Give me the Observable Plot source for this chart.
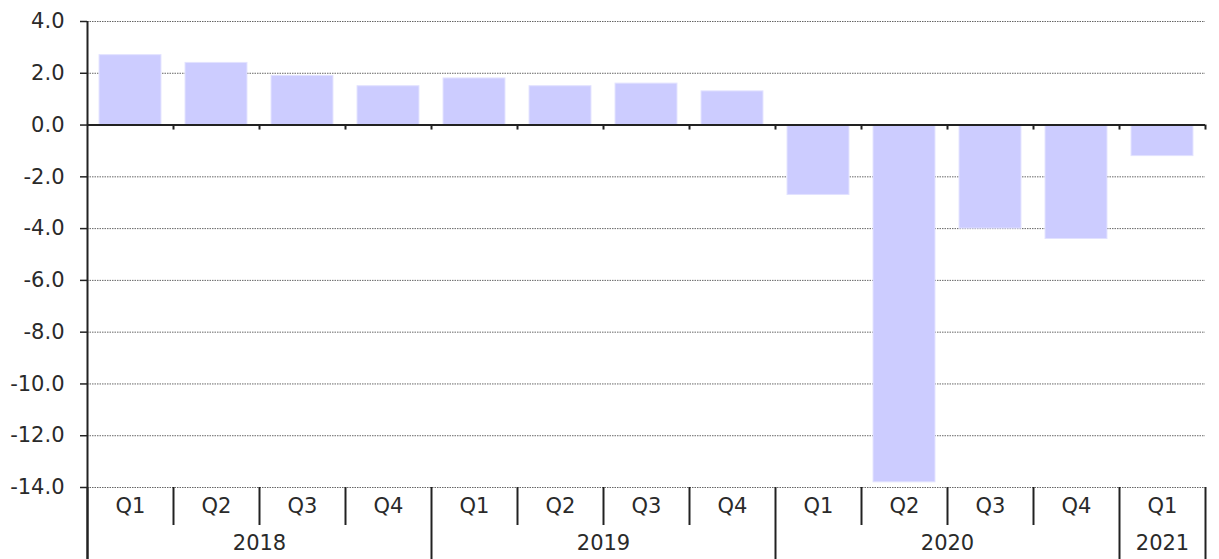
<!DOCTYPE html>
<html>
<head>
<meta charset="utf-8">
<script src="https://cdn.jsdelivr.net/npm/d3@7"></script>
<script src="https://cdn.jsdelivr.net/npm/@observablehq/plot@0.6"></script>
<style>
  html, body { margin: 0; padding: 0; background: #fff; }
  #chart svg { display: block; }
</style>
</head>
<body>
<div id="chart"></div>
<script>
const quarters = ["Q1","Q2","Q3","Q4","Q1","Q2","Q3","Q4","Q1","Q2","Q3","Q4","Q1"];
const years    = ["2018","2018","2018","2018","2019","2019","2019","2019","2020","2020","2020","2020","2021"];
const values   = [2.7, 2.4, 1.9, 1.5, 1.8, 1.5, 1.6, 1.3, -2.7, -13.8, -4.0, -4.4, -1.2];
const yTicks   = [4, 2, 0, -2, -4, -6, -8, -10, -12, -14];

const data = quarters.map((q, i) => ({i, q, year: years[i], value: values[i]}));
const n = data.length;
const yearNames = [...new Set(years)];
const yearGroups = yearNames.map(y => {
  const idx = data.filter(d => d.year === y).map(d => d.i);
  return {year: y, start: d3.min(idx), end: d3.max(idx) + 1};
});
const yearBounds = [0, ...yearGroups.map(g => g.end)];
const quarterBounds = d3.range(1, n).filter(b => !yearBounds.includes(b));
const allBounds = d3.range(1, n + 1);

const W = 1219, H = 559, mt = 21, mb = 72, ml = 87, mr = 14;

const chart = Plot.plot({
  width: W,
  height: H,
  marginTop: mt,
  marginBottom: mb,
  marginLeft: ml,
  marginRight: mr,
  style: {fontFamily: "DejaVu Sans, Verdana, sans-serif", fontSize: "21px", color: "#333", background: "#fff"},
  x: {domain: [0, n], axis: null},
  y: {domain: [-14, 4], axis: null},
  marks: [
    // dotted grid
    Plot.ruleY(yTicks.filter(t => t !== 0), {stroke: "#666", strokeWidth: 1, strokeDasharray: "1.5,1"}),
    // bars
    Plot.rectY(data, {x1: d => d.i + 0.14, x2: d => d.i + 0.86, y: "value", fill: "#ccccff", stroke: "#e2e2ff", strokeWidth: 1}),
    // zero line
    Plot.ruleY([0], {stroke: "#222", strokeWidth: 2}),
    // ticks on zero line at category boundaries
    Plot.ruleX(allBounds, {x: d => d, y1: 0, y2: 0, insetBottom: -5, stroke: "#222", strokeWidth: 2}),
    // quarter separators below plot
    Plot.ruleX(quarterBounds, {x: d => d, y1: -14, y2: -14, insetBottom: -38, stroke: "#222", strokeWidth: 2}),
    // year separators below plot
    Plot.ruleX(yearBounds, {x: d => d, y1: -14, y2: -14, insetBottom: -mb, stroke: "#222", strokeWidth: 2}),
    // left axis line spanning to bottom
    Plot.ruleX([0], {insetBottom: -mb, stroke: "#222", strokeWidth: 2}),
    // y axis ticks & labels
    Plot.axisY({ticks: yTicks, tickSize: 7, tickPadding: 16, tickFormat: d => d.toFixed(1), fill: "#2a2a2a", stroke: "#222", strokeWidth: 1.5, label: null}),
    // quarter labels
    Plot.axisX({ticks: data.map(d => d.i + 0.5), tickFormat: d => quarters[Math.floor(d)], tickSize: 0, tickPadding: 11, fill: "#2a2a2a", label: null}),
    // year labels
    Plot.axisX({ticks: yearGroups.map(g => (g.start + g.end) / 2), tickFormat: d => yearGroups.find(g => (g.start + g.end) / 2 === d).year, tickSize: 0, tickPadding: 48, fill: "#2a2a2a", label: null})
  ]
});
document.getElementById("chart").appendChild(chart);
</script>
</body>
</html>
